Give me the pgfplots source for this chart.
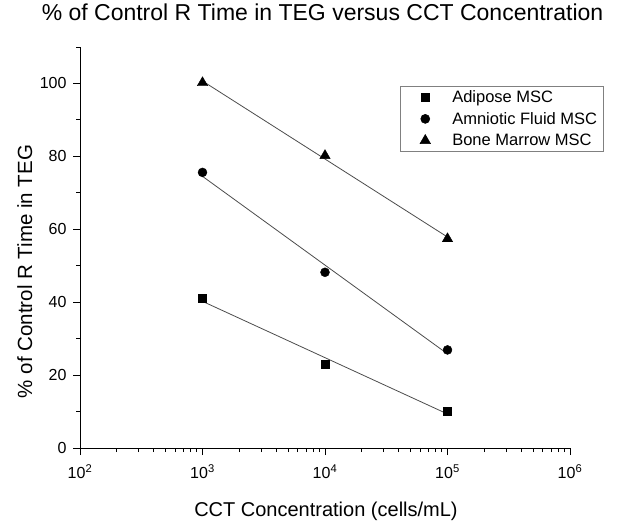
\documentclass[border=0pt]{standalone}
\usepackage{pgfplots}
\pgfplotsset{compat=1.18}
\usepackage{fontspec}
\setmainfont{Liberation Sans}
\begin{document}
\begin{tikzpicture}
\begin{semilogxaxis}[
  scale only axis,
  width=490pt, height=401pt,
  xmin=100, xmax=1000000,
  ymin=0, ymax=110,
  axis lines=left,
  axis line style={-, line width=0.9pt},
  tick style={line width=0.9pt, black},
  tick align=outside,
  major tick length=7pt,
  minor tick length=4pt,
  xtick={100,1000,10000,100000,1000000},
  xticklabels={10\textsuperscript{2},10\textsuperscript{3},10\textsuperscript{4},10\textsuperscript{5},10\textsuperscript{6}},
  ytick={0,20,40,60,80,100},
  minor ytick={10,30,50,70,90,110},
  /pgf/number format/assume math mode=true,
  tick label style={font=\fontsize{16}{19}\selectfont},
  xticklabel style={yshift=-6pt},
  yticklabel style={xshift=-3pt},
  title={\% of Control R Time in TEG versus CCT Concentration},
  title style={at={(0.495,1)}, anchor=base, yshift=20pt, font=\fontsize{23}{27}\selectfont},
  xlabel={CCT Concentration (cells/mL)},
  xlabel style={at={(0.502,0)}, anchor=base, yshift=-68pt, font=\fontsize{20}{24}\selectfont},
  ylabel={\% of Control R Time in TEG},
  ylabel style={at={(0,0.44)}, anchor=base, yshift=48pt, font=\fontsize{20.5}{24}\selectfont},
  legend style={at={(0.653,0.903)}, anchor=north west, draw=gray, line width=0.6pt,
    font=\fontsize{16.5}{19}\selectfont, row sep=4.5pt, inner xsep=4pt, inner ysep=2pt},
  legend image code/.code={\path[draw=none] (0,0) -- (46pt,0); \draw[#1] plot coordinates {(21pt,0)};},
  legend cell align=left,
  clip=false,
]
\addplot[only marks, mark=square*, mark size=4pt, black] coordinates {(1000,41.1) (10000,23) (100000,10.2)};
\addlegendentry{Adipose MSC}
\addplot[only marks, mark=*, mark size=4.5pt, black] coordinates {(1000,75.6) (10000,48.2) (100000,26.9)};
\addlegendentry{Amniotic Fluid MSC}
\addplot[only marks, mark=triangle*, mark size=6pt, black] coordinates {(1000,100.2) (10000,80.2) (100000,57.4)};
\addlegendentry{Bone Marrow MSC}
\addplot[forget plot, gray!60!black, line width=0.8pt] coordinates {(1000,40.23) (100000,9.33)};
\addplot[forget plot, gray!60!black, line width=0.8pt] coordinates {(1000,74.52) (100000,25.82)};
\addplot[forget plot, gray!60!black, line width=0.8pt] coordinates {(1000,100.67) (100000,57.87)};
\end{semilogxaxis}
\path (-80pt,-72pt) rectangle (539pt,448pt);
\end{tikzpicture}
\end{document}
